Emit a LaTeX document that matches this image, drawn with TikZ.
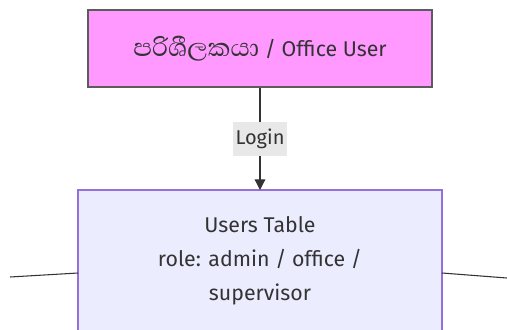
\documentclass[tikz,border=0pt]{standalone}
\usepackage{fontspec}
\setmainfont{Fira Sans}
\newfontfamily\sinhalafont[Script=Sinhala]{Abhaya Libre}
\usetikzlibrary{arrows.meta}
\definecolor{userpink}{RGB}{255,153,255}
\definecolor{tablefill}{RGB}{236,236,255}
\definecolor{tableedge}{RGB}{147,112,219}
\definecolor{edgegray}{RGB}{51,51,51}
\definecolor{labelbg}{RGB}{232,232,232}
\tikzset{
  px/.style={x=0.75pt,y=-0.75pt},
  actorbox/.style={draw=edgegray!80, line width=0.9pt, fill=userpink, minimum width=344*0.75pt, minimum height=77*0.75pt, inner sep=0pt, font=\fontsize{16}{18}\selectfont, text=black!80},
  tablebox/.style={draw=tableedge, line width=0.9pt, fill=tablefill, inner sep=0pt, text=black!80},
  flow/.style={draw=edgegray, line width=0.9pt, -{Triangle[length=8pt,width=8pt]}},
  link/.style={draw=edgegray, line width=0.8pt},
  edgelabel/.style={fill=labelbg, inner sep=2pt, font=\fontsize{15}{18}\selectfont, text=black!80, minimum height=34*0.75pt}
}
\begin{document}
\begin{tikzpicture}[px]
  \useasboundingbox (0,0) rectangle (507,329);
  % office user role
  \node[actorbox] (user) at (260,48.5) {{\sinhalafont\fontsize{24}{18}\selectfont පරිශීලකයා} / Office User};
  % users table (continues below the frame)
  \draw[tablebox] (78,190) rectangle (442,356);
  \node[align=center, text=black!80, font=\fontsize{16}{25.5}\selectfont] (users) at (260,261)
    {Users Table\\role: admin / office /\\supervisor};
  \coordinate (usertop) at (260,190);
  \coordinate (userleft) at (78,273);
  \coordinate (userright) at (442,273);
  \coordinate (farleft) at (10,277);
  \coordinate (farright) at (507,278);
  % login flow
  \draw[flow] (user.south) -- node[edgelabel] (login) {Login} (usertop);
  % links leaving the table
  \draw[link] (farleft) -- (userleft);
  \draw[link] (userright) -- (farright);
\end{tikzpicture}
\end{document}
